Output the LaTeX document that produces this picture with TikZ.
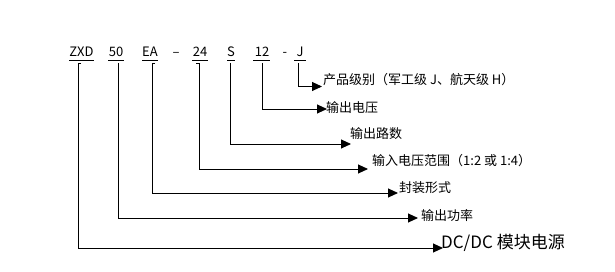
\documentclass[tikz,border=0pt]{standalone}
\usepackage{fontspec}
\setmainfont{Noto Sans CJK SC}
\usetikzlibrary{arrows.meta}
\begin{document}
\begin{tikzpicture}[x=1pt,y=-1pt,
  code/.style={font=\fontsize{13}{15}\selectfont,inner sep=0pt,anchor=base},
  lbl/.style={font=\fontsize{13}{15}\selectfont,inner sep=0pt,anchor=west},
  biglbl/.style={font=\fontsize{17}{19}\selectfont,inner sep=0pt,anchor=west},
  uline/.style={line width=0.8pt},
  conn/.style={line width=0.9pt,-{Triangle[length=10pt,width=9pt]}}]
\useasboundingbox (0,0) rectangle (615,272);
% code parts
\node[code] (zxd) at (81.5,57) {ZXD};
\node[code] (p50) at (116,57) {50};
\node[code] (ea) at (150,57) {EA};
\node[code] (d1) at (176,57) {–};
\node[code] (p24) at (200,57) {24};
\node[code] (s) at (231,57) {S};
\node[code] (p12) at (262,57) {12};
\node[code] (d2) at (285,57) {-};
\node[code] (j) at (300,57) {J};
% underlines
\draw[uline] (69,60.7) -- (94,60.7);
\draw[uline] (108,60.7) -- (124,60.7);
\draw[uline] (142,60.7) -- (158,60.7);
\draw[uline] (192,60.7) -- (208,60.7);
\draw[uline] (227,60.7) -- (235,60.7);
\draw[uline] (253,60.7) -- (270,60.7);
\draw[uline] (294,60.7) -- (306,60.7);
% labels
\node[lbl] (lj) at (323,79.5) {产品级别（军工级 J、航天级 H）};
\node[lbl] (l12) at (326,107.5) {输出电压};
\node[lbl] (ls) at (350,134) {输出路数};
\node[lbl] (l24) at (372,161) {输入电压范围（1:2 或 1:4）};
\node[lbl] (lea) at (399,188) {封装形式};
\node[lbl] (l50) at (421,216) {输出功率};
\node[biglbl] (lzxd) at (441,242.5) {DC/DC 模块电源};
% tips
\coordinate (tj) at (322,86.5);
\coordinate (t12) at (327,109);
\coordinate (ts) at (351,144);
\coordinate (t24) at (368,169);
\coordinate (tea) at (398,193);
\coordinate (t50) at (418,218);
\coordinate (tzxd) at (443,248);
% connectors
\draw[conn] (298,63) -- (298,86.5) -- (tj);
\draw[conn] (262,63) -- (262,109) -- (t12);
\draw[conn] (230,63) -- (230,144) -- (ts);
\draw[conn] (196,63) -- (199,63) -- (199,169) -- (t24);
\draw[conn] (155,63) -- (152,63) -- (152,193) -- (tea);
\draw[conn] (118,63) -- (118,218) -- (t50);
\draw[conn] (81,63) -- (78,63) -- (78,248) -- (tzxd);
\end{tikzpicture}
\end{document}
